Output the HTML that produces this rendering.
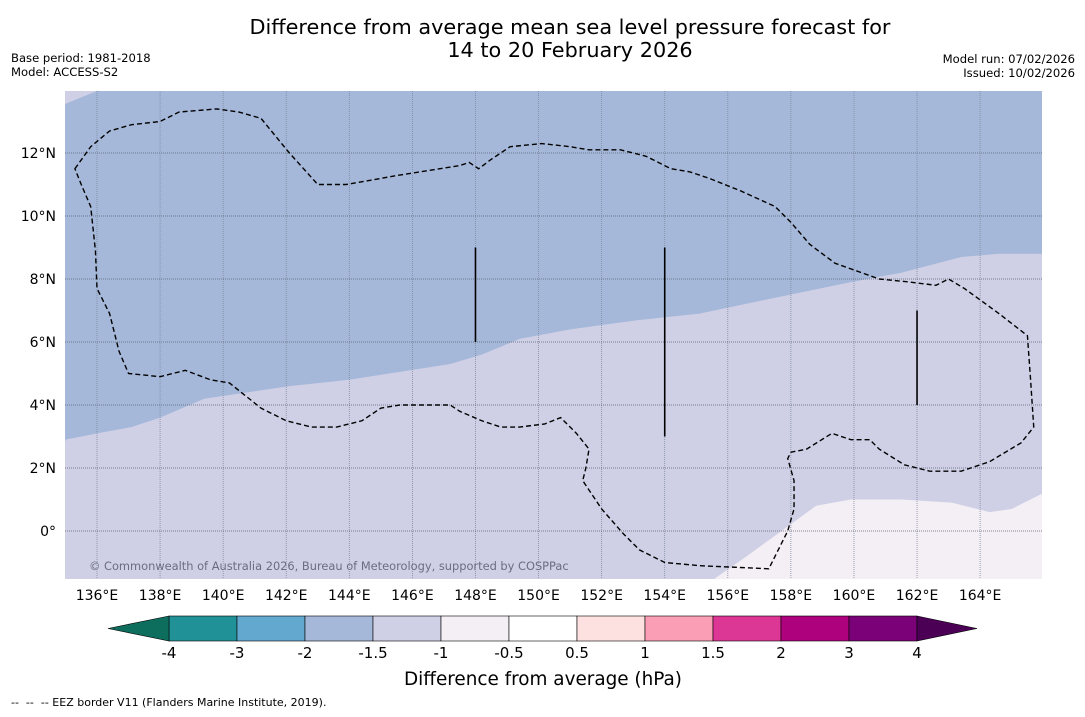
<!DOCTYPE html>
<html><head><meta charset="utf-8"><style>
body{margin:0;background:#fff;width:1085px;height:713px;overflow:hidden;font-family:"DejaVu Sans","Liberation Sans",sans-serif}
svg text{font-family:"DejaVu Sans","Liberation Sans",sans-serif}
</style></head><body>
<svg id="chart" width="1085" height="713" xmlns="http://www.w3.org/2000/svg">
<text x="570" y="34" font-size="20.8" text-anchor="middle">Difference from average mean sea level pressure forecast for</text>
<text x="570" y="57" font-size="20.8" text-anchor="middle">14 to 20 February 2026</text>
<text x="11" y="62" font-size="11.6">Base period: 1981-2018</text>
<text x="11" y="76" font-size="11.6">Model: ACCESS-S2</text>
<text x="1075" y="63" font-size="11.6" text-anchor="end">Model run: 07/02/2026</text>
<text x="1075" y="77" font-size="11.6" text-anchor="end">Issued: 10/02/2026</text>
<defs><clipPath id="mc"><rect x="65" y="91" width="977" height="488"/></clipPath></defs>
<g id="map" clip-path="url(#mc)"></g>
<g id="axes"></g>
<g id="cbar"></g>
<text x="543" y="685" font-size="18.4" text-anchor="middle">Difference from average (hPa)</text>
<text x="11" y="706" font-size="11" xml:space="preserve">--  --  -- EEZ border V11 (Flanders Marine Institute, 2019).</text>
</svg>
<script>
const lonTicks=[136,138,140,142,144,146,148,150,152,154,156,158,160,162,164];
const latTicks=[12,10,8,6,4,2,0];
const latLabels=["12°N","10°N","8°N","6°N","4°N","2°N","0°"];
const blueEdgeLon=[135.0,136.0,137.1,138.0,139.4,142.1,144.0,145.9,147.2,148.2,149.4,151.0,153.2,155.1,157.0,159.9,161.5,163.4,164.6,166.0];
const blueEdgeLat=[2.9,3.1,3.3,3.6,4.2,4.6,4.8,5.1,5.3,5.6,6.1,6.4,6.7,6.9,7.3,7.9,8.2,8.7,8.8,8.8];
const paleEdgeLon=[155.6,156.6,157.7,158.8,159.9,161.5,163.1,164.3,165.0,166.0];
const paleEdgeLat=[-1.5,-0.8,0.0,0.8,1.0,1.0,0.9,0.6,0.7,1.2];
const eezLon=[135.3,135.8,136.4,137.1,138.0,138.6,139.8,140.5,141.2,142.1,143.0,143.9,145.6,147.5,147.8,148.1,148.5,149.1,150.1,151.0,151.6,152.6,153.4,154.2,154.8,155.4,156.4,157.5,158.0,158.6,159.4,160.8,161.8,162.6,163.0,163.5,164.6,165.5,165.6,165.7,165.3,164.3,163.4,162.4,161.6,160.8,160.5,159.9,159.3,158.5,158.0,157.9,158.1,158.1,157.9,157.5,157.3,155.1,154.0,153.2,152.7,152.0,151.4,151.5,151.6,151.2,150.7,150.2,149.4,148.8,148.2,147.5,147.2,146.6,145.6,145.0,144.4,143.6,142.8,142.0,141.2,140.7,140.2,139.6,138.8,138.0,137.0,136.7,136.4,136.0,135.95,135.8,135.5];
const eezLat=[11.5,12.2,12.7,12.9,13.0,13.3,13.4,13.3,13.1,12.0,11.0,11.0,11.3,11.6,11.7,11.5,11.8,12.2,12.3,12.2,12.1,12.1,11.9,11.5,11.4,11.2,10.8,10.3,9.8,9.1,8.5,8.0,7.9,7.8,8.0,7.7,6.9,6.2,4.8,3.3,2.8,2.2,1.9,1.9,2.1,2.6,2.9,2.9,3.1,2.6,2.5,2.3,1.6,0.7,0.0,-0.8,-1.2,-1.1,-1.0,-0.6,-0.1,0.7,1.6,2.0,2.6,3.1,3.6,3.4,3.3,3.3,3.5,3.8,4.0,4.0,4.0,3.9,3.5,3.3,3.3,3.5,3.9,4.3,4.7,4.8,5.1,4.9,5.0,5.7,6.9,7.7,8.9,10.3,11.0];
const segLon=[148,154,162], segLat0=[9,9,7], segLat1=[6,3,4];
const cbBounds=["-4","-3","-2","-1.5","-1","-0.5","0.5","1","1.5","2","3","4"];
const cbColors=["#1f9197","#62a8cf","#a5b8d9","#cfd0e6","#f4eef5","#ffffff","#fde0e0","#f99eb4","#dc3795","#ae017e","#7a0177"];

const X=lon=>97+(lon-136)*31.54, Y=lat=>531-lat*31.5;
const NS='http://www.w3.org/2000/svg';
function mk(p,t,a){const e=document.createElementNS(NS,t);for(const k in a)e.setAttribute(k,a[k]);p.appendChild(e);return e;}
const map=document.getElementById('map'), axes=document.getElementById('axes'), cb=document.getElementById('cbar');
let bg=mk(map,'rect',{x:65,y:91,width:977,height:488,fill:'#a5b8d9'});


let pts=blueEdgeLon.map((l,i)=>X(l)+','+Y(blueEdgeLat[i])).join(' ');
let lav=mk(map,'polygon',{points:'40,600 '+pts+' 1060,'+Y(blueEdgeLat[blueEdgeLat.length-1])+' 1060,600',fill:'#cfd0e6'});


let corner=mk(map,'polygon',{points:'65,91 97,91 65,104',fill:'#cfd0e6'});


pts=paleEdgeLon.map((l,i)=>X(l)+','+Y(paleEdgeLat[i])).join(' ');
let pale=mk(map,'polygon',{points:pts+' 1060,'+Y(paleEdgeLat[paleEdgeLat.length-1])+' 1060,600 '+X(paleEdgeLon[0])+',600',fill:'#f4eef5'});


lonTicks.forEach(l=>{
 let g=mk(map,'line',{x1:X(l),x2:X(l),y1:91,y2:579,stroke:'#7f8aa0','stroke-width':0.8,'stroke-dasharray':'1,1'});
 
 
 let t=mk(axes,'text',{x:X(l),y:600,'font-size':14,'text-anchor':'middle'});t.textContent=l+'°E';
 
 
});
latTicks.forEach((l,i)=>{
 let g=mk(map,'line',{x1:65,x2:1042,y1:Y(l),y2:Y(l),stroke:'#5a6070','stroke-width':0.8,'stroke-dasharray':'1,1'});
 
 
 let t=mk(axes,'text',{x:56,y:Y(l)+5,'font-size':14,'text-anchor':'end'});t.textContent=latLabels[i];
 
 
});
pts=eezLon.map((l,i)=>X(l)+','+Y(eezLat[i])).join(' ');
let eez=mk(map,'polygon',{points:pts,fill:'none',stroke:'#000','stroke-width':1.4,'stroke-dasharray':'5,3'});


segLon.forEach((l,i)=>{
 let s=mk(map,'line',{x1:X(l),x2:X(l),y1:Y(segLat0[i]),y2:Y(segLat1[i]),stroke:'#000','stroke-width':1.6});
 
 
});
let cp=mk(map,'text',{x:89,y:570,'font-size':11.4,fill:'#6a6d80'});cp.textContent='© Commonwealth of Australia 2026, Bureau of Meteorology, supported by COSPPac';


const cx0=169,cw=68,cy=616,ch=25;
cbColors.forEach((c,i)=>{
 let r=mk(cb,'rect',{x:cx0+i*cw,y:cy,width:cw,height:ch,fill:c,stroke:'#000','stroke-width':0.6});
 
 
});
let lt=mk(cb,'polygon',{points:`${cx0},${cy} 108,${cy+ch/2} ${cx0},${cy+ch}`,fill:'#0e6e5e',stroke:'#000','stroke-width':0.6});


const xe=cx0+cbColors.length*cw;
let rt=mk(cb,'polygon',{points:`${xe},${cy} 977,${cy+ch/2} ${xe},${cy+ch}`,fill:'#4b0056',stroke:'#000','stroke-width':0.6});


cbBounds.forEach((b,i)=>{
 let t=mk(cb,'text',{x:cx0+i*cw,y:658,'font-size':15,'text-anchor':'middle'});t.textContent=b;
 
 
});
</script>
</body></html>
